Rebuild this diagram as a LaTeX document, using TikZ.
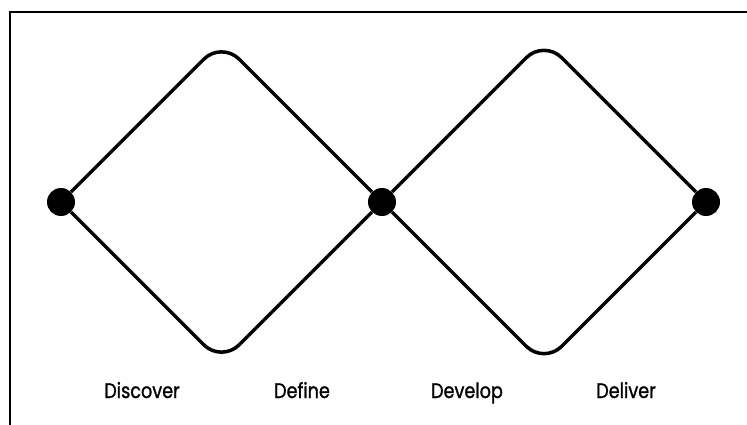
\documentclass[tikz,border=0pt]{standalone}
\usepackage{fontspec}
\setmainfont{Poppins}[FakeStretch=0.84, FakeBold=1.2]
\usepackage{tikz}

\begin{document}
\begin{tikzpicture}[
  x=1pt, y=-1pt,
  dot/.style={circle, fill=black, inner sep=0pt, minimum size=28pt},
  diamondline/.style={line width=3.5pt, rounded corners=25pt},
  phase/.style={anchor=base, font=\fontsize{21}{24}\selectfont},
]
\useasboundingbox (0,0) rectangle (747,425);

% Frame
\draw[line width=2pt] (747,12) -- (10,12) -- (10,425);

% Dots
\node[dot] (start) at (61, 202) {};
\node[dot] (mid) at (382, 202) {};
\node[dot] (finish) at (706, 202) {};

% Apexes of the two diamonds
\coordinate (top1) at (221.5, 41.5);
\coordinate (bot1) at (221.5, 362.5);
\coordinate (top2) at (544, 40);
\coordinate (bot2) at (544, 364);

% Diamonds
\draw[diamondline] (start) -- (top1) -- (mid);
\draw[diamondline] (start) -- (bot1) -- (mid);
\draw[diamondline] (mid) -- (top2) -- (finish);
\draw[diamondline] (mid) -- (bot2) -- (finish);

% Phases
\node[phase] (discover) at (142, 398) {Discover};
\node[phase] (define) at (302, 398) {Define};
\node[phase] (develop) at (467, 398) {Develop};
\node[phase] (deliver) at (626, 398) {Deliver};
\end{tikzpicture}
\end{document}
